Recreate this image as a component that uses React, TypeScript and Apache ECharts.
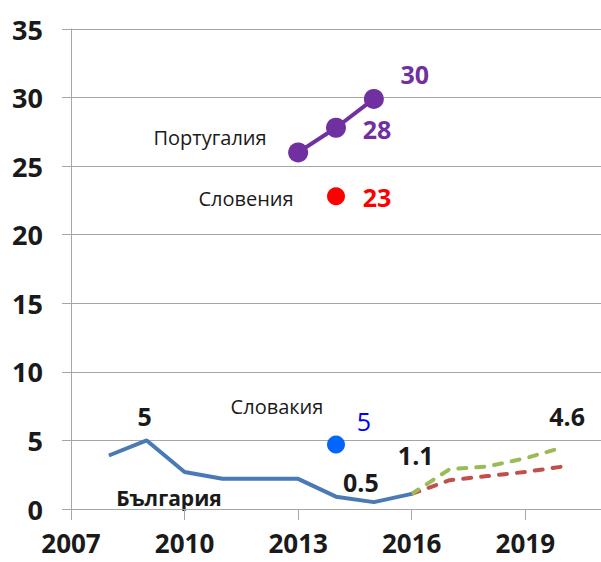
import React, { useEffect, useRef } from "react";
import * as echarts from "echarts";

const years = ["2007","2008","2009","2010","2011","2012","2013","2014","2015","2016","2017","2018","2019","2020","2021"];
const bulgaria = [null, 3.9, 5.0, 2.7, 2.2, 2.2, 2.2, 0.9, 0.5, 1.1, null, null, null, null, null];
const bulgariaLabels = [null, null, "5", null, null, null, null, null, "0.5", "1.1", null, null, null, null, null];
const forecastHigh = [null, null, null, null, null, null, null, null, null, 1.1, 2.9, 3.1, 3.7, 4.5, null];
const forecastHighLabels = [null, null, null, null, null, null, null, null, null, null, null, null, null, "4.6", null];
const forecastLow = [null, null, null, null, null, null, null, null, null, 1.1, 2.1, 2.4, 2.7, 3.1, null];
const portugal = [null, null, null, null, null, null, 26.0, 27.8, 29.9, null, null, null, null, null, null];
const portugalLabels = [null, null, null, null, null, null, null, "28", "30", null, null, null, null, null, null];
const slovenia = [null, null, null, null, null, null, null, 22.8, null, null, null, null, null, null, null];
const sloveniaLabels = [null, null, null, null, null, null, null, "23", null, null, null, null, null, null, null];
const slovakia = [null, null, null, null, null, null, null, 4.7, null, null, null, null, null, null, null];
const slovakiaLabels = [null, null, null, null, null, null, null, "5", null, null, null, null, null, null, null];
const yTicks = { min: 0, max: 35, interval: 5 };

const FONT = "'Open Sans', sans-serif";

function withLabels(values: (number | null)[], labels: (string | null)[], offsets: Record<string, number[]>, color: string, fontWeight = "bold", fontSize = 25) {
  return values.map((v, i) => {
    const t = labels[i];
    if (v == null) return null;
    if (!t) return { value: v };
    return {
      value: v,
      label: {
        show: true,
        formatter: t,
        position: "inside",
        offset: offsets[t] || [0, 0],
        color,
        fontSize,
        fontWeight,
        fontFamily: FONT,
      },
    };
  });
}

export default function App() {
  const ref = useRef<HTMLDivElement>(null);
  useEffect(() => {
    if (!ref.current) return;
    const chart = echarts.init(ref.current, null, { renderer: "svg" });
    const gray = "#a6a6a6";
    const hidden = "rgba(0,0,0,0)";
    chart.setOption({
      animation: false,
      backgroundColor: "#ffffff",
      grid: { left: 71, right: -3, top: 29, bottom: 53, containLabel: false },
      xAxis: {
        type: "category",
        data: years,
        boundaryGap: false,
        axisLine: { lineStyle: { color: gray, width: 1 } },
        axisTick: { show: true, interval: 2, length: 11, lineStyle: { color: gray } },
        axisLabel: { interval: 2, margin: 24, lineHeight: 20, color: "#1a1a1a", fontSize: 26, fontWeight: "bold", fontFamily: FONT },
        splitLine: { show: false },
      },
      yAxis: {
        type: "value",
        min: yTicks.min,
        max: yTicks.max,
        interval: yTicks.interval,
        axisLine: { show: true, lineStyle: { color: gray, width: 1 } },
        axisTick: { show: true, length: 9, lineStyle: { color: gray } },
        axisLabel: { margin: 28, color: "#1a1a1a", fontSize: 27, fontWeight: "bold", fontFamily: FONT },
        splitLine: { show: true, lineStyle: { color: gray, width: 1 } },
      },
      graphic: [
        { type: "text", x: 210, y: 137, style: { text: "Португалия", fontSize: 20, fontFamily: FONT, fill: "#1a1a1a", align: "center", verticalAlign: "middle" } },
        { type: "text", x: 246, y: 198, style: { text: "Словения", fontSize: 20, fontFamily: FONT, fill: "#1a1a1a", align: "center", verticalAlign: "middle" } },
        { type: "text", x: 277, y: 406, style: { text: "Словакия", fontSize: 20, fontFamily: FONT, fill: "#1a1a1a", align: "center", verticalAlign: "middle" } },
        { type: "text", x: 169, y: 498, style: { text: "България", fontSize: 21, fontWeight: "bold", fontFamily: FONT, fill: "#1a1a1a", align: "center", verticalAlign: "middle" } },
      ],
      series: [
        {
          type: "line",
          data: forecastLow,
          symbol: "none",
          lineStyle: { color: "#c0504d", width: 4, type: [8, 10], cap: "round" },
          z: 2,
        },
        {
          type: "line",
          data: withLabels(forecastHigh, forecastHighLabels, { "4.6": [4, -31] }, "#1a1a1a"),
          symbol: "circle",
          symbolSize: 1,
          itemStyle: { color: hidden },
          lineStyle: { color: "#9bbb59", width: 4, type: [8, 10], cap: "round" },
          z: 3,
        },
        {
          type: "line",
          data: withLabels(bulgaria, bulgariaLabels, { "5": [-2, -24], "0.5": [-13, -20], "1.1": [4, -39] }, "#1a1a1a"),
          symbol: "circle",
          symbolSize: 1,
          itemStyle: { color: hidden },
          lineStyle: { color: "#4a7ab5", width: 4 },
          z: 4,
        },
        {
          type: "line",
          data: withLabels(portugal, portugalLabels, { "28": [41, 1], "30": [41, -25] }, "#7030a0"),
          symbol: "circle",
          symbolSize: 20,
          itemStyle: { color: "#7030a0" },
          lineStyle: { color: "#7030a0", width: 4 },
          z: 5,
        },
        {
          type: "line",
          data: withLabels(slovenia, sloveniaLabels, { "23": [41, 1] }, "#ff0000"),
          symbol: "circle",
          symbolSize: 18,
          itemStyle: { color: "#ff0000" },
          z: 5,
        },
        {
          type: "line",
          data: withLabels(slovakia, slovakiaLabels, { "5": [28, -24] }, "#0000ff", "normal"),
          symbol: "circle",
          symbolSize: 18,
          itemStyle: { color: "#0066ff" },
          z: 5,
        },
      ],
    });
    return () => chart.dispose();
  }, []);
  return <div ref={ref} style={{ width: 601, height: 562, position: "absolute", left: 0, top: 0 }} />;
}
